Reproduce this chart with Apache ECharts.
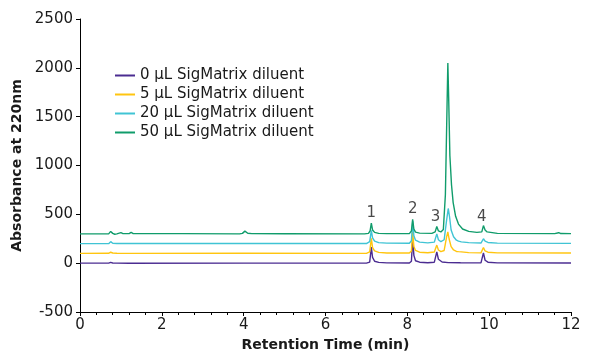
<!DOCTYPE html>
<html><head><meta charset="utf-8">
<script src="https://cdn.jsdelivr.net/npm/echarts@6/dist/echarts.min.js"></script>
<style>html,body{margin:0;padding:0;background:#fff}#c{width:594px;height:354px}</style>
</head><body><div id="c"></div>
<script>
const seriesNames = ['0 µL SigMatrix diluent','5 µL SigMatrix diluent','20 µL SigMatrix diluent','50 µL SigMatrix diluent'];
const colors = ['#4b2c91','#ffc510','#40c4d4','#109c6b'];

const trace0 = [[0,0],[0.7,0],[0.75,8],[0.8,2],[0.9,0],[1.2,-1],[4,0],[7.0,0],[7.08,10],[7.12,165],[7.15,60],[7.2,20],[7.3,8],[7.5,3],[8.05,2],[8.1,20],[8.13,255],[8.16,80],[8.2,25],[8.3,10],[8.5,5],[8.66,10],[8.72,115],[8.76,40],[8.85,12],[9.0,6],[9.3,4],[9.8,3],[9.84,20],[9.86,105],[9.9,30],[9.97,10],[10.2,3],[12,2]];
const trace5 = [[0,100],[0.7,101],[0.75,112],[0.8,104],[0.9,102],[1.2,100],[4,101],[7.0,100],[7.08,115],[7.12,255],[7.15,160],[7.2,125],[7.3,110],[7.5,104],[8.05,104],[8.1,125],[8.13,320],[8.16,170],[8.2,130],[8.3,112],[8.5,106],[8.66,115],[8.72,185],[8.76,135],[8.82,118],[8.9,130],[8.96,270],[8.99,320],[9.02,250],[9.07,170],[9.13,135],[9.2,120],[9.25,118],[9.28,126],[9.32,116],[9.5,108],[9.8,105],[9.84,118],[9.86,160],[9.9,125],[9.97,112],[10.2,105],[12,104]];
const trace20 = [[0,200],[0.7,200],[0.75,220],[0.8,204],[0.9,202],[1.2,201],[4,202],[7.0,201],[7.08,220],[7.12,335],[7.15,260],[7.2,225],[7.3,210],[7.5,205],[8.05,204],[8.1,230],[8.13,430],[8.16,280],[8.2,235],[8.3,215],[8.5,208],[8.66,215],[8.72,300],[8.76,240],[8.82,220],[8.9,240],[8.96,440],[9.0,560],[9.03,480],[9.07,340],[9.13,270],[9.2,235],[9.25,225],[9.28,230],[9.32,218],[9.5,210],[9.8,206],[9.84,218],[9.86,250],[9.9,225],[9.97,212],[10.2,205],[12,203]];
const trace50 = [[0,300],[0.7,300],[0.75,325],[0.8,305],[0.85,296],[0.9,300],[1.0,312],[1.05,302],[1.2,302],[1.25,315],[1.3,302],[2.5,302],[3.9,300],[3.97,305],[4.03,328],[4.1,306],[4.2,302],[5,301],[6.95,300],[7.05,305],[7.09,330],[7.12,410],[7.15,340],[7.2,315],[7.3,305],[7.5,302],[8.05,302],[8.1,330],[8.13,450],[8.16,350],[8.2,318],[8.3,308],[8.6,305],[8.68,320],[8.72,375],[8.76,330],[8.82,320],[8.88,345],[8.93,700],[8.97,1600],[8.99,2050],[9.01,1700],[9.04,1100],[9.08,800],[9.12,620],[9.18,480],[9.25,400],[9.35,350],[9.5,325],[9.7,315],[9.82,320],[9.86,385],[9.9,340],[9.95,320],[10.2,305],[11.6,302],[11.7,312],[11.75,303],[12,302]];
const traces = [trace0, trace5, trace20, trace50];

const peakLabels = ['1','2','3','4'];
const peakLabelX = [7.12, 8.13, 8.69, 9.82];
const peakLabelY = [515, 555, 475, 475];

const xTicks = [0,2,4,6,8,10,12];
const yTicks = [-500,0,500,1000,1500,2000,2500];

const font = 'DejaVu Sans';
const chart = echarts.init(document.getElementById('c'), null, {renderer:'canvas'});
const series = traces.map((d,i)=>({
  name: seriesNames[i], type:'line', data:d, showSymbol:false, symbol:'none',
  lineStyle:{width:1.4,color:colors[i]}, itemStyle:{color:colors[i]}, animation:false, z:2+i
}));
series.push({
  type:'scatter', symbolSize:0, silent:true, animation:false,
  data: peakLabels.map((l,i)=>({value:[peakLabelX[i], peakLabelY[i]], name:l})),
  label:{show:true, position:'inside', formatter:p=>p.name, color:'#1a1a1a', fontFamily:font, fontSize:15}
});
chart.setOption({
  animation:false,
  grid:{left:80, right:23, top:19, bottom:42, containLabel:false, outerBoundsMode:'none'},
  legend:{
    data: seriesNames, orient:'vertical', left:110, top:63, itemGap:4,
    itemWidth:20, itemHeight:2, icon:'rect',
    textStyle:{fontFamily:font, fontSize:15, color:'#1a1a1a'}
  },
  xAxis:{
    type:'value', min:xTicks[0], max:xTicks[xTicks.length-1], interval:2,
    name:'Retention Time (min)', nameLocation:'middle', nameGap:21,
    nameTextStyle:{fontFamily:font, fontSize:14, fontWeight:'bold', color:'#1a1a1a'},
    axisLine:{onZero:false, lineStyle:{color:'#000', width:1}},
    axisTick:{show:true, length:4, lineStyle:{color:'#000'}},
    minorTick:{show:true, splitNumber:5, length:3, lineStyle:{color:'#000'}},
    axisLabel:{fontFamily:font, fontSize:15, color:'#1a1a1a', margin:6},
    splitLine:{show:false}
  },
  yAxis:{
    type:'value', min:yTicks[0], max:yTicks[yTicks.length-1], interval:500,
    name:'Absorbance at 220nm', nameLocation:'middle', nameGap:53,
    nameTextStyle:{fontFamily:font, fontSize:14, fontWeight:'bold', color:'#1a1a1a'},
    axisLine:{show:true, onZero:false, lineStyle:{color:'#000', width:1}},
    axisTick:{show:true, length:4, lineStyle:{color:'#000'}},
    axisLabel:{fontFamily:font, fontSize:15, color:'#1a1a1a', margin:7, formatter:v=>String(v)},
    splitLine:{show:false}
  },
  series: series
});
</script></body></html>
